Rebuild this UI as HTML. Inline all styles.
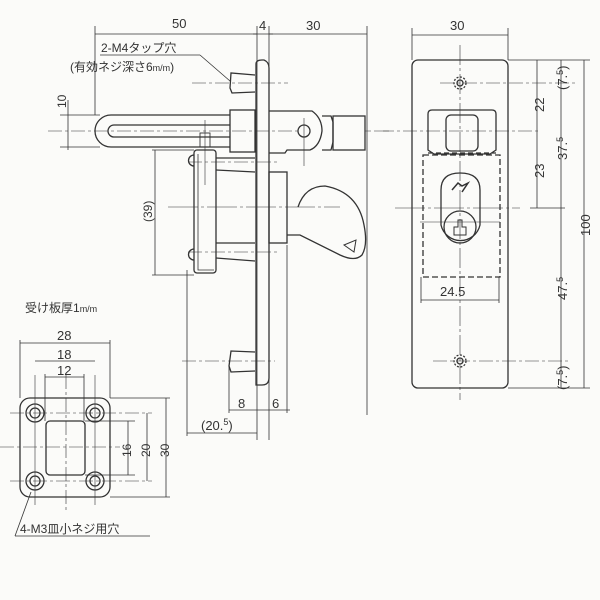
<!DOCTYPE html>
<html><head><meta charset="utf-8"><style>
html,body{margin:0;padding:0;background:#fbfbf9;}
svg{display:block}
text{font-family:"Liberation Sans","Noto Sans CJK JP",sans-serif;fill:#333;}
</style></head><body>
<svg width="600" height="600" viewBox="0 0 600 600" xmlns="http://www.w3.org/2000/svg">
<g stroke="#333" stroke-width="1.3" fill="none">
<!-- top dims -->
<line x1="95" y1="34" x2="257" y2="34" stroke-width="0.8"/>
<line x1="95" y1="26" x2="95" y2="115" stroke-width="0.8"/>
<line x1="257" y1="26" x2="257" y2="440" stroke-width="0.8"/>
<line x1="269" y1="26" x2="269" y2="440" stroke-width="0.8"/>
<line x1="269" y1="34" x2="367" y2="34" stroke-width="0.8"/>
<line x1="367" y1="26" x2="367" y2="415" stroke-width="0.8"/>
<line x1="253" y1="34" x2="273" y2="34" stroke-width="0.8"/>
<!-- 10 dim -->
<line x1="68" y1="100" x2="68" y2="150" stroke-width="0.8"/>
<line x1="60" y1="115" x2="100" y2="115" stroke-width="0.8"/>
<line x1="60" y1="147" x2="100" y2="147" stroke-width="0.8"/>
<line x1="48" y1="131" x2="300" y2="131" stroke-width="0.6" stroke-dasharray="14,3,3,3"/>
<!-- plate -->
<path d="M256 385 V64 Q256 60 262 60 H264 Q269 62 269 68 V378 Q269 385 262 385 Z"/>
<!-- bosses -->
<path d="M255 75 L231 73 L230 88 L232 93 L255 92"/>
<path d="M255 352 L231 351 L229 366 L231 372 L255 371"/>
<line x1="192" y1="83" x2="288" y2="83" stroke-width="0.6" stroke-dasharray="14,3,3,3"/>
<line x1="182" y1="361" x2="275" y2="361" stroke-width="0.6" stroke-dasharray="14,3,3,3"/>
<!-- handle -->
<path d="M230 115 H111 A16 16 0 0 0 111 147 H230"/>
<path d="M230 125 H114 A6 6 0 0 0 114 137 H230"/>
<rect x="230" y="110" width="25" height="42"/>
<rect x="200" y="133" width="10" height="14" stroke-width="0.9"/>
<line x1="205" y1="120" x2="205" y2="185" stroke-width="0.6"/>
<!-- right of plate top -->
<path d="M269 111 H312 Q322 118 322 131 Q320 146 310 150 H287 L285 153 H269"/>
<circle cx="304" cy="131" r="6"/>
<line x1="304" y1="118" x2="304" y2="166" stroke-width="0.6"/>
<path d="M322 116 H331 L333 122 V142 L331 150 H322"/>
<rect x="333" y="116" width="32" height="34"/>
<line x1="365" y1="131" x2="390" y2="131" stroke-width="0.6" stroke-dasharray="6,3"/>
<!-- grip -->
<rect x="194" y="150" width="22" height="123" rx="3"/>
<path d="M198 154 V270 H214" stroke-width="0.8"/>
<path d="M194 155 A5 5 0 0 0 194 166"/>
<path d="M194 249 A5 5 0 0 0 194 260"/>
<path d="M216 158 L255 158 M216 170 L255 172 M216 243 L255 243 M216 258 L255 261" />
<line x1="188" y1="162" x2="280" y2="162" stroke-width="0.6" stroke-dasharray="14,3,3,3"/>
<line x1="188" y1="252" x2="280" y2="252" stroke-width="0.6" stroke-dasharray="14,3,3,3"/>
<line x1="168" y1="207" x2="340" y2="207" stroke-width="0.6" stroke-dasharray="30,3,3,3"/>
<!-- right block & lever -->
<rect x="269" y="172" width="18" height="71"/>
<path d="M287 235 H300 L340 255 Q355 262 362 255 Q368 245 364 225 Q358 192 325 186 Q305 186 298 207" stroke-dasharray="none"/>
<path d="M344 245 L356 240 L354 252 Z" stroke-width="1"/>
<!-- (39) dim -->
<line x1="155" y1="150" x2="155" y2="275" stroke-width="0.8"/>
<line x1="152" y1="150" x2="194" y2="150" stroke-width="0.8"/>
<line x1="152" y1="275" x2="194" y2="275" stroke-width="0.8"/>
<!-- bottom dims -->
<line x1="229" y1="365" x2="229" y2="413" stroke-width="0.8"/>
<line x1="287" y1="245" x2="287" y2="413" stroke-width="0.8"/>
<line x1="187" y1="270" x2="187" y2="436" stroke-width="0.8"/>
<line x1="229" y1="410" x2="290" y2="410" stroke-width="0.8"/>
<line x1="187" y1="433" x2="257" y2="433" stroke-width="0.8"/>
<!-- leader -->
<line x1="100" y1="55" x2="200" y2="55" stroke-width="0.8"/>
<line x1="200" y1="55" x2="230" y2="81" stroke-width="0.8"/>
<!-- right view -->
<rect x="412" y="60" width="96" height="328" rx="6"/>
<line x1="460" y1="45" x2="460" y2="400" stroke-width="0.6" stroke-dasharray="20,3,3,3"/>
<line x1="412" y1="35" x2="508" y2="35" stroke-width="0.8"/>
<line x1="412" y1="28" x2="412" y2="60" stroke-width="0.8"/>
<line x1="508" y1="28" x2="508" y2="60" stroke-width="0.8"/>
<circle cx="460" cy="83" r="6" stroke-dasharray="2,1.5"/><circle cx="460" cy="83" r="3"/>
<circle cx="460" cy="361" r="6" stroke-dasharray="2,1.5"/><circle cx="460" cy="361" r="3"/>
<line x1="440" y1="83" x2="575" y2="83" stroke-width="0.6" stroke-dasharray="14,3,3,3"/>
<line x1="433" y1="361" x2="568" y2="361" stroke-width="0.6" stroke-dasharray="14,3,3,3"/>
<path d="M428 150 V114 Q428 110 432 110 H492 Q496 110 496 114 V150 L490 154 H434 Z"/>
<rect x="446" y="115" width="32" height="36" rx="5"/>
<line x1="428" y1="153" x2="496" y2="153" stroke-dasharray="5,3"/>
<rect x="423" y="155" width="77" height="122" stroke-dasharray="6,3"/>
<line x1="380" y1="131" x2="540" y2="131" stroke-width="0.6" stroke-dasharray="14,3,3,3"/>
<path d="M441 190 Q441 173 460 173 Q480 173 480 190 V225 A20 20 0 0 1 441 225 Z"/>
<circle cx="460" cy="227" r="16"/>
<path d="M452 190 L458 183 L462 186 L468 183 L462 192" stroke-width="1.5"/>
<path d="M454 235 V227 H458 V220 H462 V227 H466 V235 Z" stroke-width="1"/>
<line x1="395" y1="208" x2="520" y2="208" stroke-width="0.6" stroke-dasharray="30,3,3,3"/>
<line x1="420" y1="222" x2="500" y2="222" stroke-width="0.6"/>
<line x1="421" y1="300" x2="499" y2="300" stroke-width="0.8"/>
<line x1="421" y1="277" x2="421" y2="303" stroke-width="0.8"/>
<line x1="499" y1="277" x2="499" y2="303" stroke-width="0.8"/>
<!-- right vertical dims -->
<line x1="508" y1="60" x2="590" y2="60" stroke-width="0.8"/>
<line x1="508" y1="388" x2="590" y2="388" stroke-width="0.8"/>
<line x1="537" y1="60" x2="537" y2="208" stroke-width="0.8"/>
<line x1="561" y1="60" x2="561" y2="388" stroke-width="0.8"/>
<line x1="584" y1="60" x2="584" y2="388" stroke-width="0.8"/>
<line x1="530" y1="208" x2="565" y2="208" stroke-width="0.8"/>
<!-- small part -->
<rect x="20" y="398" width="90" height="99" rx="10"/>
<rect x="46" y="421" width="39" height="54" rx="4"/>
<circle cx="35" cy="413" r="9"/><circle cx="35" cy="413" r="5"/>
<circle cx="95" cy="413" r="9"/><circle cx="95" cy="413" r="5"/>
<circle cx="35" cy="481" r="9"/><circle cx="35" cy="481" r="5"/>
<circle cx="95" cy="481" r="9"/><circle cx="95" cy="481" r="5"/>
<line x1="10" y1="413" x2="152" y2="413" stroke-width="0.6" stroke-dasharray="14,3,3,3"/>
<line x1="10" y1="481" x2="152" y2="481" stroke-width="0.6" stroke-dasharray="14,3,3,3"/>
<line x1="0" y1="447" x2="120" y2="447" stroke-width="0.6" stroke-dasharray="14,3,3,3"/>
<line x1="66" y1="375" x2="66" y2="510" stroke-width="0.6" stroke-dasharray="14,3,3,3"/>
<line x1="35" y1="375" x2="35" y2="505" stroke-width="0.6"/>
<line x1="95" y1="375" x2="95" y2="505" stroke-width="0.6"/>
<line x1="20" y1="343" x2="110" y2="343" stroke-width="0.8"/>
<line x1="20" y1="340" x2="20" y2="398" stroke-width="0.8"/>
<line x1="110" y1="340" x2="110" y2="398" stroke-width="0.8"/>
<line x1="35" y1="361" x2="95" y2="361" stroke-width="0.8"/>
<line x1="45" y1="377" x2="84" y2="377" stroke-width="0.8"/>
<line x1="45" y1="374" x2="45" y2="421" stroke-width="0.8"/>
<line x1="84" y1="374" x2="84" y2="421" stroke-width="0.8"/>
<line x1="128" y1="421" x2="128" y2="475" stroke-width="0.8"/>
<line x1="147" y1="413" x2="147" y2="481" stroke-width="0.8"/>
<line x1="166" y1="398" x2="166" y2="497" stroke-width="0.8"/>
<line x1="85" y1="421" x2="135" y2="421" stroke-width="0.8"/>
<line x1="85" y1="475" x2="135" y2="475" stroke-width="0.8"/>
<line x1="110" y1="398" x2="170" y2="398" stroke-width="0.8"/>
<line x1="110" y1="497" x2="170" y2="497" stroke-width="0.8"/>
<line x1="15" y1="536" x2="150" y2="536" stroke-width="0.8"/>
<line x1="15" y1="536" x2="31" y2="492" stroke-width="0.8"/>
</g>
<g font-size="13">
<text x="172" y="28">50</text>
<text x="259" y="30">4</text>
<text x="306" y="30">30</text>
<text x="450" y="30">30</text>
<text x="101" y="52" font-size="12">2-M4タップ穴</text>
<text x="70" y="71" font-size="12">(有効ネジ深さ6<tspan font-size="9">m/m</tspan>)</text>
<text transform="translate(66,108) rotate(-90)" font-size="12">10</text>
<text transform="translate(152,222) rotate(-90)" font-size="12">(39)</text>
<text x="238" y="408">8</text>
<text x="272" y="408">6</text>
<text x="201" y="430">(20.<tspan font-size="9" dy="-5">5</tspan><tspan dy="5">)</tspan></text>
<text x="440" y="296">24.5</text>
<text transform="translate(544,112) rotate(-90)">22</text>
<text transform="translate(544,178) rotate(-90)">23</text>
<text transform="translate(567,90) rotate(-90)">(7.<tspan font-size="9" dy="-4">5</tspan><tspan dy="4">)</tspan></text>
<text transform="translate(567,160) rotate(-90)">37.<tspan font-size="9" dy="-4">5</tspan></text>
<text transform="translate(590,236) rotate(-90)">100</text>
<text transform="translate(567,300) rotate(-90)">47.<tspan font-size="9" dy="-4">5</tspan></text>
<text transform="translate(567,390) rotate(-90)">(7.<tspan font-size="9" dy="-4">5</tspan><tspan dy="4">)</tspan></text>
<text x="25" y="312" font-size="12">受け板厚1<tspan font-size="9">m/m</tspan></text>
<text x="57" y="340">28</text>
<text x="57" y="359">18</text>
<text x="57" y="375">12</text>
<text transform="translate(131,457) rotate(-90)" font-size="12">16</text>
<text transform="translate(150,457) rotate(-90)" font-size="12">20</text>
<text transform="translate(169,457) rotate(-90)" font-size="12">30</text>
<text x="20" y="533" font-size="12">4-M3皿小ネジ用穴</text>
</g>
</svg>
</body></html>
